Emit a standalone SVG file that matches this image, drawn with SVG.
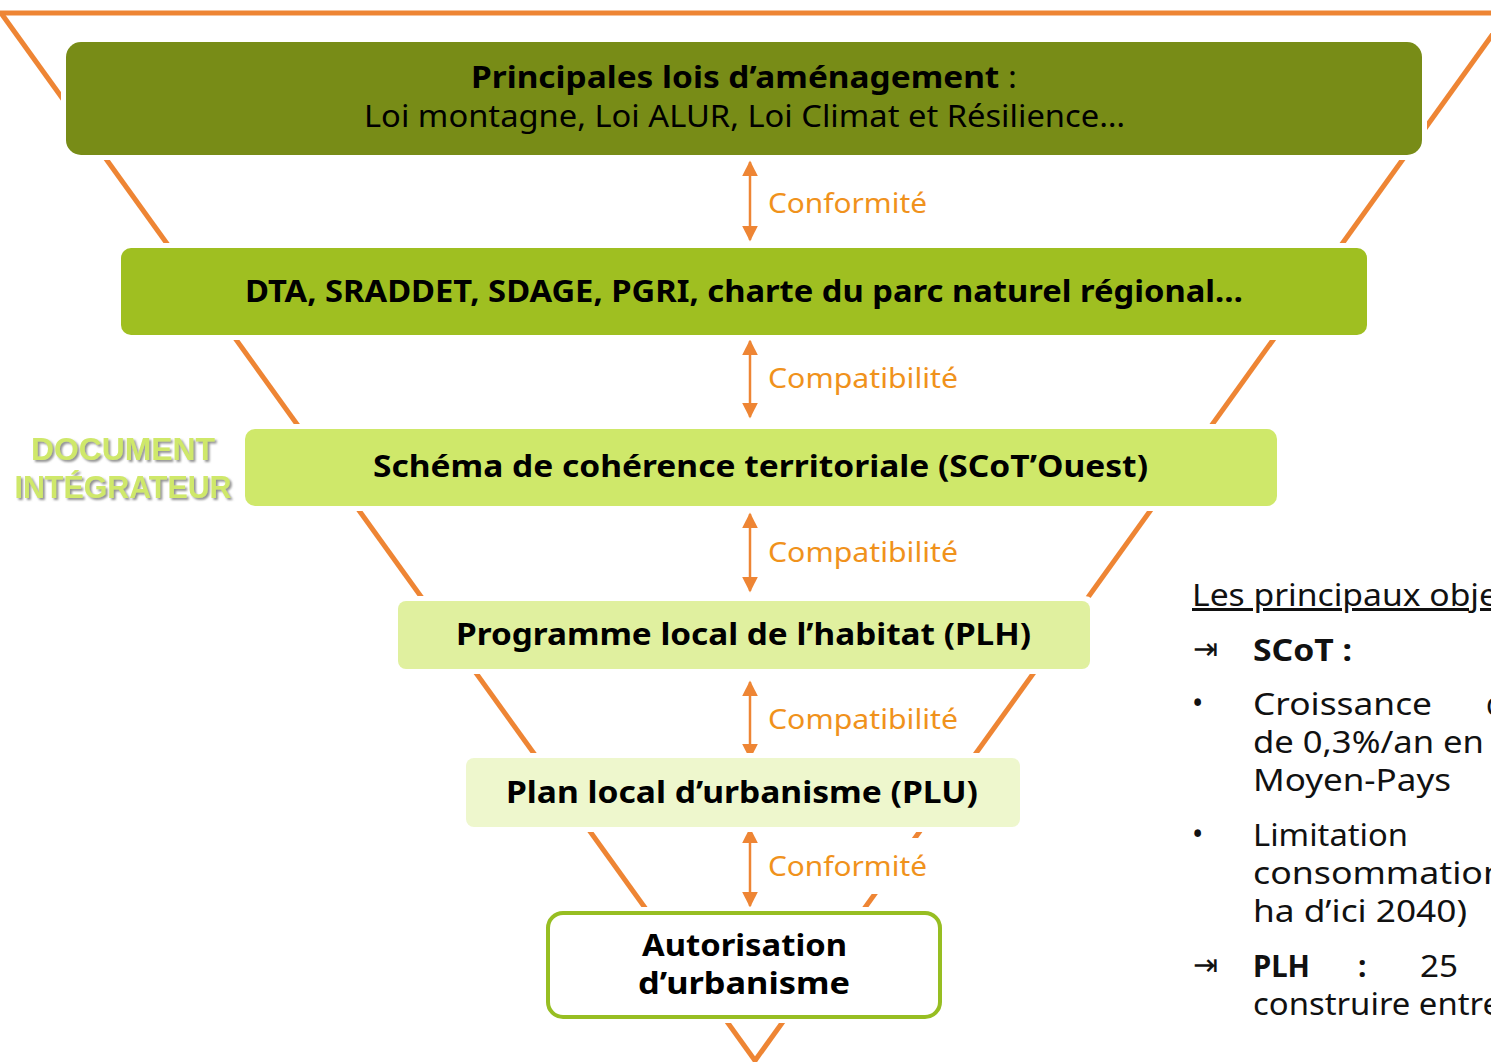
<svg xmlns="http://www.w3.org/2000/svg" width="1491" height="1062" viewBox="0 0 1491 1062">
<style>
.edge{stroke:#ee8534;stroke-width:5;fill:none}
.arr{stroke:#ee8534;stroke-width:2.5;fill:none;marker-start:url(#ah);marker-end:url(#ah)}
.pad{fill:#fff}
.t{font-family:"Noto Sans","Liberation Sans",sans-serif;fill:#000}
.b{font-weight:bold}
.box{font-size:30px;text-anchor:start}
.lbl{font-family:"Noto Sans","Liberation Sans",sans-serif;font-size:28px;fill:#f0921c}
.side{font-family:"Liberation Sans",sans-serif;font-weight:bold;font-size:31px;fill:#cfe86a;filter:url(#sh)}
.r{font-family:"Noto Sans","Liberation Sans",sans-serif;font-size:30px;fill:#111}
</style>
<defs>
<marker id="ah" viewBox="0 0 10 10" refX="9" refY="5" markerWidth="6.4" markerHeight="6.4" orient="auto-start-reverse" markerUnits="strokeWidth">
<path d="M0,0 L10,5 L0,10 z" fill="#ee8534"/>
</marker>
<filter id="sh" x="-10%" y="-20%" width="130%" height="150%">
<feDropShadow dx="2" dy="2" stdDeviation="1.2" flood-color="#777" flood-opacity="0.8"/>
</filter>
</defs>
<rect width="1491" height="1062" fill="#fff"/>
<g id="frame">
<line class="edge" x1="0" y1="13" x2="1491" y2="13"/>
<line class="edge" x1="1" y1="13" x2="756" y2="1062"/>
<line class="edge" x1="1508" y1="13" x2="754" y2="1062"/>
</g>
<g id="connectors">
<line class="arr" x1="750" y1="162" x2="750" y2="240"/>
<line class="arr" x1="750" y1="341" x2="750" y2="417"/>
<line class="arr" x1="750" y1="514" x2="750" y2="591"/>
<line class="arr" x1="750" y1="682" x2="750" y2="758"/>
<line class="arr" x1="750" y1="829" x2="750" y2="906"/>
<rect class="pad" x="764" y="186" width="168" height="38"/>
<text class="lbl" x="768" y="213" textLength="159" lengthAdjust="spacingAndGlyphs">Conformité</text>
<rect class="pad" x="764" y="361" width="198" height="38"/>
<text class="lbl" x="768" y="388" textLength="190" lengthAdjust="spacingAndGlyphs">Compatibilité</text>
<rect class="pad" x="764" y="535" width="198" height="38"/>
<text class="lbl" x="768" y="562" textLength="190" lengthAdjust="spacingAndGlyphs">Compatibilité</text>
<rect class="pad" x="764" y="702" width="198" height="38"/>
<text class="lbl" x="768" y="729" textLength="190" lengthAdjust="spacingAndGlyphs">Compatibilité</text>
<rect class="pad" x="760" y="838" width="172" height="56"/>
<text class="lbl" x="768" y="876" textLength="159" lengthAdjust="spacingAndGlyphs">Conformité</text>
</g>
<g id="lois">
<rect class="pad" x="61" y="37" width="1366" height="123" rx="18"/>
<rect x="66" y="42" width="1356" height="113" rx="15" fill="#788c17"/>
<text class="t box" x="471" y="88" textLength="546" lengthAdjust="spacingAndGlyphs"><tspan class="b">Principales lois d’aménagement</tspan> :</text>
<text class="t box" x="364" y="127" textLength="761" lengthAdjust="spacingAndGlyphs">Loi montagne, Loi ALUR, Loi Climat et Résilience…</text>
</g>
<g id="dta">
<rect class="pad" x="116" y="243" width="1256" height="97" rx="12"/>
<rect x="121" y="248" width="1246" height="87" rx="10" fill="#9fbf21"/>
<text class="t box b" x="245" y="302" textLength="998" lengthAdjust="spacingAndGlyphs">DTA, SRADDET, SDAGE, PGRI, charte du parc naturel régional…</text>
</g>
<g id="scot">
<rect class="pad" x="240" y="424" width="1042" height="87" rx="12"/>
<rect x="245" y="429" width="1032" height="77" rx="10" fill="#cfe86a"/>
<text class="t box b" x="373" y="477" textLength="775" lengthAdjust="spacingAndGlyphs">Schéma de cohérence territoriale (SCoT’Ouest)</text>
</g>
<g id="document-integrateur">
<text class="side" x="123" y="460" text-anchor="middle" textLength="184" lengthAdjust="spacingAndGlyphs">DOCUMENT</text>
<text class="side" x="123" y="498" text-anchor="middle" textLength="217" lengthAdjust="spacingAndGlyphs">INTÉGRATEUR</text>
</g>
<g id="plh">
<rect class="pad" x="393" y="596" width="702" height="78" rx="10"/>
<rect x="398" y="601" width="692" height="68" rx="8" fill="#e0f09f"/>
<text class="t box b" x="456" y="645" textLength="575" lengthAdjust="spacingAndGlyphs">Programme local de l’habitat (PLH)</text>
</g>
<g id="plu">
<rect class="pad" x="461" y="753" width="564" height="79" rx="10"/>
<rect x="466" y="758" width="554" height="69" rx="8" fill="#eef7cd"/>
<text class="t box b" x="506" y="803" textLength="472" lengthAdjust="spacingAndGlyphs">Plan local d’urbanisme (PLU)</text>
</g>
<g id="autorisation">
<rect class="pad" x="542" y="907" width="404" height="116" rx="18"/>
<rect x="548" y="913" width="392" height="104" rx="15" fill="#fff" stroke="#97be22" stroke-width="4"/>
<text class="t box b" x="642" y="956" textLength="205" lengthAdjust="spacingAndGlyphs">Autorisation</text>
<text class="t box b" x="638" y="994" textLength="212" lengthAdjust="spacingAndGlyphs">d’urbanisme</text>
</g>
<g id="objectifs">
<text class="r" x="1192" y="606" text-decoration="underline" textLength="306" lengthAdjust="spacingAndGlyphs">Les principaux obje</text>
<text class="r" x="1193" y="659" font-size="22">⇥</text>
<text class="r b" x="1253" y="661" textLength="99" lengthAdjust="spacingAndGlyphs">SCoT :</text>
<text class="r" x="1192" y="714">•</text>
<text class="r" x="1253" y="715" textLength="179" lengthAdjust="spacingAndGlyphs">Croissance</text>
<text class="r" x="1486" y="715">d</text>
<text class="r" x="1253" y="753" textLength="231" lengthAdjust="spacingAndGlyphs">de 0,3%/an en</text>
<text class="r" x="1253" y="791" textLength="198" lengthAdjust="spacingAndGlyphs">Moyen-Pays</text>
<text class="r" x="1192" y="845">•</text>
<text class="r" x="1253" y="846" textLength="155" lengthAdjust="spacingAndGlyphs">Limitation</text>
<text class="r" x="1253" y="884" textLength="252" lengthAdjust="spacingAndGlyphs">consommation</text>
<text class="r" x="1253" y="922" textLength="214" lengthAdjust="spacingAndGlyphs">ha d’ici 2040)</text>
<text class="r" x="1193" y="975" font-size="22">⇥</text>
<text class="r b" x="1253" y="977" textLength="57" lengthAdjust="spacingAndGlyphs">PLH</text>
<text class="r b" x="1358" y="977">:</text>
<text class="r" x="1420" y="977" textLength="38" lengthAdjust="spacingAndGlyphs">25</text>
<text class="r" x="1253" y="1015" textLength="248" lengthAdjust="spacingAndGlyphs">construire entre</text>
</g>
</svg>
